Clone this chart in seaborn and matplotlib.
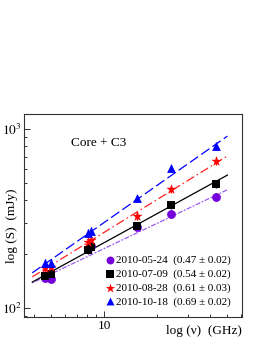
import numpy as np
import pandas as pd
import matplotlib
matplotlib.use("Agg")
import matplotlib.pyplot as plt
import matplotlib.ticker as mticker
import seaborn as sns

# ---- data ----
freq_ghz = [4.6, 5.0, 8.1, 8.4, 15.4, 23.8, 43.2]
epochs = ["2010-05-24", "2010-07-09", "2010-08-28", "2010-10-18"]
index_vals = ["0.47", "0.54", "0.61", "0.69"]
index_errs = ["0.02", "0.02", "0.03", "0.02"]
flux_0524 = [147, 146, 215, 222, 285, 335, 419]
flux_0709 = [150, 155, 211, 218, 287, 375, 491]
flux_0828 = [167, 170, 234, 240, 326, 460, 662]
flux_1018 = [179, 179, 263, 269, 410, 603, 804]
fit_alpha = [0.47, 0.54, 0.61, 0.69]
fit_s10 = [215, 232, 265, 301]      # fitted flux at 10 GHz (mJy)
fit_range = [3.9, 50.0]
rel_err = 0.05

fluxes = [flux_0524, flux_0709, flux_0828, flux_1018]
marker_colors = ["#7400dc", "#000000", "#ff0000", "#0000ff"]
line_colors = ["#9a5cf0", "#000000", "#ff2020", "#0000ff"]
markers = ["o", "s", "*", "^"]
msizes = [40, 34, 60, 40]
dashes = [(1.5, 1.2, 4, 1.2), (), (7, 2.5, 1.2, 2.5), (8, 3)]

plt.rcParams["font.family"] = ["Liberation Serif", "DejaVu Serif"]
plt.rcParams["mathtext.fontset"] = "stix"

fig = plt.figure(figsize=(2.64, 3.41), dpi=100)
ax = fig.add_axes([24 / 264, 1 - 317 / 341, 218 / 264, 203 / 341])

labels = [f"{e}  ({v} \u00b1 {er})" for e, v, er in zip(epochs, index_vals, index_errs)]

rows = []
for lab, fl in zip(labels, fluxes):
    for f, s in zip(freq_ghz, fl):
        rows.append({"freq": f, "flux": s, "epoch": lab})
df = pd.DataFrame(rows)

# fit lines
nu = np.geomspace(fit_range[0], fit_range[1], 50)
for i, lab in enumerate(labels):
    fit_df = pd.DataFrame({"freq": nu, "flux": fit_s10[i] * (nu / 10.0) ** fit_alpha[i]})
    sns.lineplot(data=fit_df, x="freq", y="flux", ax=ax, color=line_colors[i],
                 lw=0.9, legend=False)
    if dashes[i]:
        ax.lines[-1].set_dashes(dashes[i])

# error bars
for i, fl in enumerate(fluxes):
    fl = np.array(fl, float)
    ax.errorbar(freq_ghz, fl, yerr=fl * rel_err, fmt="none", ecolor=marker_colors[i],
                elinewidth=1.0, capsize=0, zorder=3)

# points
for i, lab in enumerate(labels):
    sub = df[df["epoch"] == lab]
    sns.scatterplot(data=sub, x="freq", y="flux", ax=ax, color=marker_colors[i],
                    marker=markers[i], s=msizes[i], edgecolor=marker_colors[i],
                    linewidth=0, label=lab, zorder=4)

ax.set_xscale("log")
ax.set_yscale("log")
ax.set_xlim(3.5, 60.5)
ax.set_ylim(89, 1215)

ax.xaxis.set_major_locator(mticker.FixedLocator([10]))
ax.xaxis.set_major_formatter(mticker.FixedFormatter(["10"]))
ax.xaxis.set_minor_locator(mticker.LogLocator(base=10, subs=np.arange(2, 10)))
ax.xaxis.set_minor_formatter(mticker.NullFormatter())
ax.yaxis.set_major_locator(mticker.FixedLocator([100, 1000]))
ax.yaxis.set_major_formatter(mticker.FixedFormatter([r"$10^2$", r"$10^3$"]))
ax.yaxis.set_minor_locator(mticker.LogLocator(base=10, subs=np.arange(2, 10)))
ax.yaxis.set_minor_formatter(mticker.NullFormatter())

ax.tick_params(which="both", direction="in", top=False, right=False, labelsize=9.5,
               width=0.7, color="#333333")
ax.tick_params(which="major", length=4.5)
ax.tick_params(which="minor", length=2.5)
ax.tick_params(axis="x", pad=2)
ax.tick_params(axis="y", pad=1.5)
for sp in ax.spines.values():
    sp.set_linewidth(0.8)
    sp.set_color("#333333")

ax.set_xlabel("")
ax.set_ylabel("")
fig.text(242 / 264, 1 - 331 / 341, "log (\u03bd)  (GHz)", ha="right", va="center", fontsize=9.5)
fig.text(12 / 264, 1 - 226 / 341, "log (S)  (mJy)", ha="center", va="center",
         rotation=90, fontsize=9.5)
ax.text(47 / 218, 1 - (143 - 114) / 203, "Core + C3", transform=ax.transAxes,
        ha="left", va="center", fontsize=9.5)

leg = ax.legend(loc="lower right", bbox_to_anchor=(0.96, 0.04), frameon=False,
                fontsize=8.0, handlelength=0.5, handletextpad=0.35, labelspacing=0.35,
                borderaxespad=0.0, borderpad=0.2, markerscale=0.9)

fig.savefig("out.png", dpi=100)
